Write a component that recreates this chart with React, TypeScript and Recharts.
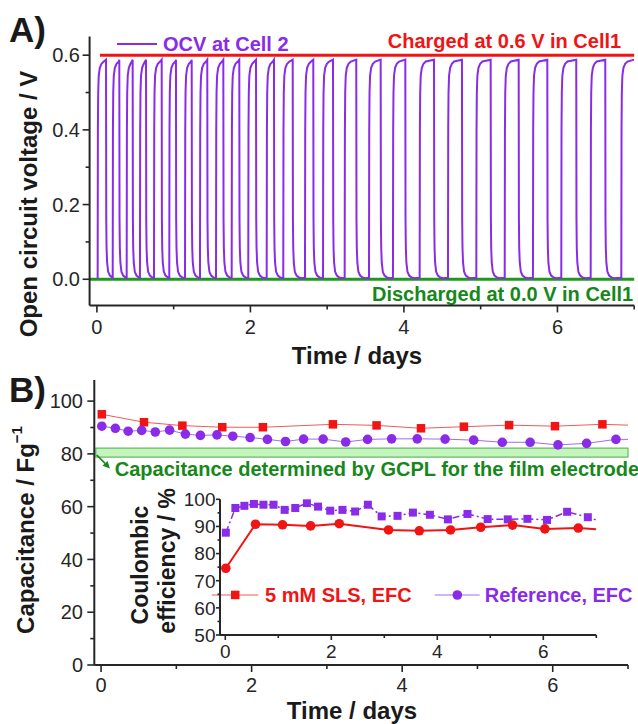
import React from 'react';
import { LineChart, Line, XAxis, YAxis, ReferenceLine, ReferenceArea, Legend, Label } from 'recharts';

const FONT = '"Liberation Sans", Arial, Helvetica, sans-serif';
const PURPLE = '#8a2be8';
const PURPLE_LIGHT = '#a36af2';
const RED = '#f01414';
const RED_LIGHT = '#f05a5a';
const GREEN_LINE = '#1c9a1c';
const GREEN_TEXT = '#16881a';
const AXIS = '#262626';

// ---------- Panel A: OCV pulses (days) ----------
const pulseRise = [0.01, 0.206, 0.388, 0.561, 0.744, 0.943, 1.148, 1.343, 1.552, 1.756, 1.972, 2.212, 2.428, 2.711, 2.946, 3.228, 3.545, 3.857, 4.205, 4.574, 4.943, 5.313, 5.681, 6.05, 6.433, 6.832];
const pulseFall = [0.119, 0.292, 0.466, 0.64, 0.844, 1.03, 1.235, 1.438, 1.647, 1.855, 2.073, 2.307, 2.551, 2.819, 3.076, 3.379, 3.697, 4.018, 4.392, 4.756, 5.13, 5.495, 5.868, 6.245, 6.623, 7.0];
// shape of one charge / discharge corner: [days after edge, volts]
const riseShape = [[0, 0.004], [0.003, 0.4], [0.007, 0.5], [0.014, 0.545], [0.028, 0.566], [0.05, 0.577], [0.08, 0.583]];
const fallShape = [[0, 0.588], [0.003, 0.16], [0.007, 0.085], [0.014, 0.045], [0.028, 0.02], [0.05, 0.01], [0.08, 0.005], [0.12, 0.003]];
const OCV_TOP = 0.588;
const OCV_LOW = 0.004;

const ocvData: { t: number; v: number }[] = [{ t: 0, v: OCV_LOW }];
pulseRise.forEach((L, i) => {
  const R = pulseFall[i];
  const next = i + 1 < pulseRise.length ? pulseRise[i + 1] : 7;
  riseShape.forEach(([dt, v]) => {
    if (L + dt < R) ocvData.push({ t: L + dt, v });
  });
  ocvData.push({ t: Math.min(R, 7), v: OCV_TOP });
  if (R < 7) {
    fallShape.forEach(([dt, v]) => {
      if (dt > 0 && R + dt < next) ocvData.push({ t: R + dt, v });
    });
  }
});

// ---------- Panel B ----------
const slsTimes = [0.01, 0.57, 1.08, 1.61, 2.15, 3.08, 3.66, 4.25, 4.82, 5.42, 6.03, 6.66, 7.0];
const slsCapacitance = [95.0, 92.0, 90.7, 90.1, 90.1, 91.2, 90.8, 89.7, 90.3, 90.9, 90.5, 91.2, 90.9];
const slsEfficiency = [74.6, 90.8, 90.6, 90.2, 91.0, 88.7, 88.4, 88.7, 89.7, 90.5, 89.1, 89.4, 89.0];

const refTimes = [0.01, 0.19, 0.36, 0.54, 0.72, 0.91, 1.12, 1.32, 1.54, 1.75, 1.98, 2.21, 2.45, 2.69, 2.95, 3.25, 3.54, 3.86, 4.2, 4.57, 4.95, 5.33, 5.7, 6.07, 6.45, 6.84, 7.0];
const refCapacitance = [90.5, 89.7, 88.6, 88.9, 88.3, 89.0, 87.5, 87.0, 87.2, 86.7, 86.2, 85.5, 84.7, 85.6, 85.6, 84.5, 85.5, 85.7, 85.7, 85.6, 85.2, 84.4, 84.4, 83.4, 84.0, 85.5, 85.5];
const refEfficiency = [87.7, 96.8, 97.6, 98.3, 98.0, 98.0, 96.1, 96.8, 98.6, 97.3, 95.8, 96.1, 95.5, 98.0, 93.7, 93.9, 95.1, 94.3, 92.6, 94.6, 92.7, 92.6, 92.8, 92.4, 95.4, 93.4, 92.4];

const gcplBand = [78.8, 82.2];

const slsCapData = slsTimes.map((t, i) => ({ t, v: slsCapacitance[i] }));
const slsCEData = slsTimes.map((t, i) => ({ t, v: slsEfficiency[i] }));
const refCapData = refTimes.map((t, i) => ({ t, v: refCapacitance[i] }));
const refCEData = refTimes.map((t, i) => ({ t, v: refEfficiency[i] }));

// ---------- tick renderers ----------
const near = (arr: number[], v: number) => arr.some((m) => Math.abs(m - v) < 1e-6);

function xTick(majors: number[], majorLen: number, minorLen: number, labelDy: number, fontSize: number) {
  return (p: any) => {
    const { x, y, payload } = p;
    const v = payload.value;
    const isMajor = near(majors, v);
    return (
      <g key={`xt-${v}`}>
        <line x1={x} x2={x} y1={y} y2={y + (isMajor ? majorLen : minorLen)} stroke={AXIS} strokeWidth={1.6} />
        {isMajor && (
          <text x={x} y={y + labelDy} textAnchor="middle" fontSize={fontSize} fontFamily={FONT} fill={AXIS}>
            {String(v)}
          </text>
        )}
      </g>
    );
  };
}

function yTick(majors: number[], majorLen: number, minorLen: number, labelDx: number, fontSize: number, fmt: (v: number) => string) {
  return (p: any) => {
    const { x, y, payload } = p;
    const v = payload.value;
    const isMajor = near(majors, v);
    return (
      <g key={`yt-${v}`}>
        <line x1={x - (isMajor ? majorLen : minorLen)} x2={x} y1={y} y2={y} stroke={AXIS} strokeWidth={1.6} />
        {isMajor && (
          <text x={x - labelDx} y={y + fontSize * 0.36} textAnchor="end" fontSize={fontSize} fontFamily={FONT} fill={AXIS}>
            {fmt(v)}
          </text>
        )}
      </g>
    );
  };
}

const squareDot = (size: number, color: string, lastIndex: number) => (p: any) => {
  const { cx, cy, index } = p;
  if (index === lastIndex || cx == null) return <g key={`d-${index}`} />;
  return <rect key={`d-${index}`} x={cx - size / 2} y={cy - size / 2} width={size} height={size} fill={color} />;
};
const circleDot = (r: number, color: string, lastIndex: number) => (p: any) => {
  const { cx, cy, index } = p;
  if (index === lastIndex || cx == null) return <g key={`d-${index}`} />;
  return <circle key={`d-${index}`} cx={cx} cy={cy} r={r} fill={color} />;
};

const arrowShape = (p: any) => {
  const { x1, y1, x2, y2 } = p;
  const ang = Math.atan2(y2 - y1, x2 - x1);
  const L = 7;
  const W = 3.5;
  const bx = x2 - L * Math.cos(ang);
  const by = y2 - L * Math.sin(ang);
  const nx = -Math.sin(ang) * W;
  const ny = Math.cos(ang) * W;
  return (
    <g>
      <line x1={x1} y1={y1} x2={bx} y2={by} stroke={GREEN_TEXT} strokeWidth={1.6} />
      <polygon points={`${x2},${y2} ${bx + nx},${by + ny} ${bx - nx},${by - ny}`} fill={GREEN_TEXT} />
    </g>
  );
};

const boldText = { fontFamily: FONT, fontWeight: 700 as const };

export default function App() {
  return (
    <div style={{ position: 'absolute', left: 0, top: 0, width: 638, height: 724, background: '#fff', fontFamily: FONT }}>
      {/* Panel A */}
      <div style={{ position: 'absolute', left: 0, top: 0 }}>
        <LineChart width={638} height={380} data={ocvData} margin={{ top: 36.5, right: 3.8, left: 0, bottom: 0 }}>
          <XAxis
            type="number"
            dataKey="t"
            domain={[-0.095, 7]}
            ticks={[0, 1, 2, 3, 4, 5, 6, 7]}
            interval={0}
            height={74.6}
            tickSize={0}
            tickMargin={0}
            tickLine={false}
            axisLine={{ stroke: AXIS, strokeWidth: 2 }}
            tick={xTick([0, 2, 4, 6], 7, 4, 29, 20)}
            allowDataOverflow
          >
            <Label
              content={() => (
                <text x={357} y={364} textAnchor="middle" fontSize={24} fill="#1a1a1a" {...boldText}>
                  Time / days
                </text>
              )}
            />
          </XAxis>
          <YAxis
            type="number"
            domain={[-0.07, 0.65]}
            ticks={[0, 0.1, 0.2, 0.3, 0.4, 0.5, 0.6]}
            interval={0}
            width={89.6}
            tickSize={0}
            tickMargin={0}
            tickLine={false}
            axisLine={{ stroke: AXIS, strokeWidth: 2 }}
            tick={yTick([0, 0.2, 0.4, 0.6], 7, 4, 9.6, 20, (v) => v.toFixed(1))}
            allowDataOverflow
          >
            <Label
              content={() => (
                <text x={28} y={204} transform="rotate(-90 28 204)" textAnchor="middle" dominantBaseline="central" fontSize={24} fill="#1a1a1a" {...boldText}>
                  Open circuit voltage / V
                </text>
              )}
            />
          </YAxis>
          <ReferenceLine
            y={0}
            stroke={GREEN_LINE}
            strokeWidth={3}
            label={(lp: any) => {
              const vb = lp.viewBox;
              return (
                <text x={vb.x + vb.width - 1} y={vb.y + 22} textAnchor="end" fontSize={20} fill={GREEN_TEXT} {...boldText}>
                  Discharged at 0.0 V in Cell1
                </text>
              );
            }}
          />
          <Line type="linear" dataKey="v" stroke={PURPLE} strokeWidth={2} dot={false} isAnimationActive={false} name="OCV at Cell 2" />
          <ReferenceLine
            segment={[{ x: 0.04, y: 0.6 }, { x: 7, y: 0.6 }]}
            stroke={RED}
            strokeWidth={3}
            label={(lp: any) => {
              const vb = lp.viewBox;
              return (
                <text x={vb.x + vb.width - 13} y={vb.y - 7} textAnchor="end" fontSize={20} fill={RED} {...boldText}>
                  Charged at 0.6 V in Cell1
                </text>
              );
            }}
          />
          <Legend
            layout="vertical"
            align="center"
            verticalAlign="middle"
            wrapperStyle={{ left: 110, top: 30, width: 200, height: 28 }}
            content={() => (
              <svg width={200} height={28}>
                <line x1={7} x2={47} y1={14} y2={14} stroke={PURPLE} strokeWidth={2} />
                <text x={53} y={21} fontSize={20} fill={PURPLE} {...boldText}>
                  OCV at Cell 2
                </text>
              </svg>
            )}
          />
        </LineChart>
      </div>

      {/* Panel B main */}
      <div style={{ position: 'absolute', left: 0, top: 340 }}>
        <LineChart width={638} height={384} margin={{ top: 40, right: 10, left: 0, bottom: 0 }}>
          <XAxis
            type="number"
            dataKey="t"
            domain={[-0.09, 7]}
            ticks={[0, 1, 2, 3, 4, 5, 6, 7]}
            interval={0}
            height={59}
            tickSize={0}
            tickMargin={0}
            tickLine={false}
            axisLine={{ stroke: AXIS, strokeWidth: 2 }}
            tick={xTick([0, 2, 4, 6], 7, 4, 27, 20)}
            allowDataOverflow
          >
            <Label
              content={() => (
                <text x={352} y={378.5} textAnchor="middle" fontSize={24} fill="#1a1a1a" {...boldText}>
                  Time / days
                </text>
              )}
            />
          </XAxis>
          <YAxis
            type="number"
            domain={[0, 108]}
            ticks={[0, 10, 20, 30, 40, 50, 60, 70, 80, 90, 100]}
            interval={0}
            width={94.3}
            tickSize={0}
            tickMargin={0}
            tickLine={false}
            axisLine={{ stroke: AXIS, strokeWidth: 2 }}
            tick={yTick([0, 20, 40, 60, 80, 100], 7, 4, 11.3, 20, (v) => String(v))}
            allowDataOverflow
          >
            <Label
              content={() => (
                <text x={25} y={190} transform="rotate(-90 25 190)" textAnchor="middle" dominantBaseline="central" fontSize={24} fill="#1a1a1a" {...boldText}>
                  Capacitance / Fg
                  <tspan fontSize={15} dy={-9}>−1</tspan>
                </text>
              )}
            />
          </YAxis>
          <ReferenceArea
            x1={-0.07}
            x2={7}
            y1={gcplBand[0]}
            y2={gcplBand[1]}
            fill="#c3f5bc"
            fillOpacity={1}
            stroke="#63bd63"
            strokeWidth={1.2}
            label={(lp: any) => {
              const vb = lp.viewBox;
              return (
                <text x={vb.x + 19} y={vb.y + vb.height + 19} textAnchor="start" fontSize={20} fill={GREEN_TEXT} {...boldText}>
                  Capacitance determined by GCPL for the film electrode
                </text>
              );
            }}
          />
          <ReferenceLine segment={[{ x: -0.058, y: 79.6 }, { x: 0.118, y: 74.5 }]} shape={arrowShape} />
          <Line
            data={slsCapData}
            type="linear"
            dataKey="v"
            stroke={RED_LIGHT}
            strokeWidth={1}
            dot={squareDot(8.5, RED, slsCapData.length - 1)}
            isAnimationActive={false}
            name="5 mM SLS, EFC"
          />
          <Line
            data={refCapData}
            type="linear"
            dataKey="v"
            stroke={PURPLE_LIGHT}
            strokeWidth={1}
            dot={circleDot(4.8, PURPLE, refCapData.length - 1)}
            isAnimationActive={false}
            name="Reference, EFC"
          />
          <Legend
            layout="vertical"
            align="center"
            verticalAlign="middle"
            wrapperStyle={{ left: 200, top: 235, width: 438, height: 36 }}
            content={() => (
              <svg width={438} height={36}>
                <line x1={11.7} x2={58.3} y1={20} y2={20} stroke={RED_LIGHT} strokeWidth={1} />
                <rect x={31} y={15.7} width={8.5} height={8.5} fill={RED} />
                <text x={65} y={27} fontSize={20} fill={RED} {...boldText}>
                  5 mM SLS, EFC
                </text>
                <line x1={234.7} x2={279.7} y1={20} y2={20} stroke={PURPLE_LIGHT} strokeWidth={1} />
                <circle cx={257.3} cy={20} r={4.8} fill={PURPLE} />
                <text x={284.7} y={27} fontSize={20} fill={PURPLE} {...boldText}>
                  Reference, EFC
                </text>
              </svg>
            )}
          />
        </LineChart>
      </div>

      {/* Panel B inset */}
      <div style={{ position: 'absolute', left: 100, top: 480 }}>
        <LineChart width={538} height={200} margin={{ top: 19.3, right: 41.7, left: 0, bottom: 0 }}>
          <XAxis
            type="number"
            dataKey="t"
            domain={[-0.1, 7]}
            ticks={[0, 1, 2, 3, 4, 5, 6, 7]}
            interval={0}
            height={45}
            tickSize={0}
            tickMargin={0}
            tickLine={false}
            axisLine={{ stroke: AXIS, strokeWidth: 2 }}
            tick={xTick([0, 2, 4, 6], 5, 3, 23.3, 19)}
            allowDataOverflow
          />
          <YAxis
            type="number"
            domain={[50, 100]}
            ticks={[50, 55, 60, 65, 70, 75, 80, 85, 90, 95, 100]}
            interval={0}
            width={120}
            tickSize={0}
            tickMargin={0}
            tickLine={false}
            axisLine={{ stroke: AXIS, strokeWidth: 2 }}
            tick={yTick([50, 60, 70, 80, 90, 100], 4, 2.5, 4.5, 19, (v) => String(v))}
            allowDataOverflow
          >
            <Label
              content={() => (
                <g>
                  <text x={40} y={85} transform="rotate(-90 40 85)" textAnchor="middle" dominantBaseline="central" fontSize={23} fill="#1a1a1a" {...boldText}>
                    Coulombic
                  </text>
                  <text x={66.7} y={81} transform="rotate(-90 66.7 81)" textAnchor="middle" dominantBaseline="central" fontSize={23} fill="#1a1a1a" {...boldText}>
                    efficiency / %
                  </text>
                </g>
              )}
            />
          </YAxis>
          <Line
            data={refCEData}
            type="linear"
            dataKey="v"
            stroke={PURPLE}
            strokeWidth={1.5}
            strokeDasharray="7 3 2 3"
            dot={squareDot(8, PURPLE, refCEData.length - 1)}
            isAnimationActive={false}
          />
          <Line
            data={slsCEData}
            type="linear"
            dataKey="v"
            stroke={RED}
            strokeWidth={2}
            dot={circleDot(4.8, RED, slsCEData.length - 1)}
            isAnimationActive={false}
          />
        </LineChart>
      </div>

      {/* Panel letters */}
      <svg width={638} height={724} style={{ position: 'absolute', left: 0, top: 0, pointerEvents: 'none' }}>
        <text x={9} y={41.5} fontSize={35} fill="#1a1a1a" {...boldText}>A)</text>
        <text x={9} y={401.5} fontSize={35} fill="#1a1a1a" {...boldText}>B)</text>
      </svg>
    </div>
  );
}
